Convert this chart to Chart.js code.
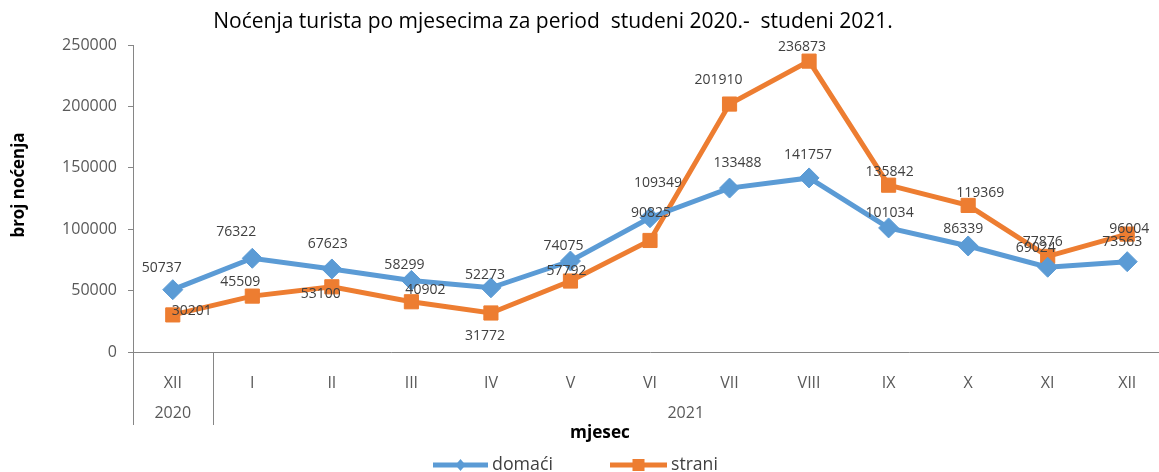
<!DOCTYPE html>
<html>
<head>
<meta charset="utf-8">
<script src="https://cdn.jsdelivr.net/npm/chart.js@4.4.1/dist/chart.umd.min.js"></script>
<style>
body{margin:0;background:#fff;}
#wrap{width:1159px;height:472px;overflow:hidden;}
</style>
</head>
<body>
<div id="wrap"><canvas id="mycanvas" width="1178" height="472"></canvas></div>
<script>
var months = ['XII', 'I', 'II', 'III', 'IV', 'V', 'VI', 'VII', 'VIII', 'IX', 'X', 'XI', 'XII'];
var years = ['2020', '2021'];
var yearMonths = [1, 12];
var domaci = [50737, 76322, 67623, 58299, 52273, 74075, 109349, 133488, 141757, 101034, 86339, 69024, 73563];
var strani = [30201, 45509, 53100, 40902, 31772, 57792, 90825, 201910, 236873, 135842, 119369, 77876, 96004];
var yMax = 250000;
var yStep = 50000;

// where each value label sits relative to its point (label placement, not data)
var domaciLabelPos = [[-11,-22],[-16,-26],[-4,-25],[-7,-15],[-6,-13],[-7,-15],[8,-35],[8,-25],[-1,-23],[1,-15],[-5,-17],[-12,-19],[-5,-20]];
var straniLabelPos = [[19,-4],[-12,-14],[-11,7],[14,-12],[-6,23],[-4,-10],[1,-27],[-11,-24],[-7,-14],[1,-13],[12,-12],[-5,-14],[2,-5]];

var FONT = '"Open Sans", "Noto Sans", sans-serif';
var BLUE = '#5B9BD5';
var ORANGE = '#ED7D31';
var AXIS = '#868686';

function fitFont(ctx, text, width, weight) {
	ctx.font = weight + ' 20px ' + FONT;
	var size = 20 * width / ctx.measureText(text).width;
	ctx.font = weight + ' ' + size.toFixed(1) + 'px ' + FONT;
}

var extras = {
	id: 'extras',
	afterDraw: function(chart) {
		var ctx = chart.ctx;
		var x = chart.scales.x;
		var area = chart.chartArea;
		ctx.save();

		// value labels
		ctx.font = '14px ' + FONT;
		ctx.fillStyle = '#404040';
		ctx.textAlign = 'center';
		ctx.textBaseline = 'middle';
		var sets = [[0, domaci, domaciLabelPos], [1, strani, straniLabelPos]];
		for (var s in sets) {
			var meta = chart.getDatasetMeta(sets[s][0]);
			for (var i in meta.data) {
				var p = meta.data[i];
				var off = sets[s][2][i];
				ctx.fillText(String(sets[s][1][i]), p.x + off[0], p.y + off[1]);
			}
		}

		// year row with separators
		ctx.strokeStyle = AXIS;
		ctx.lineWidth = 1;
		var step = x.getPixelForValue(1) - x.getPixelForValue(0);
		var start = 0;
		var edges = [area.left];
		ctx.font = '16px ' + FONT;
		ctx.fillStyle = '#595959';
		for (var k in years) {
			var a = x.getPixelForValue(start) - step / 2;
			var end = start + yearMonths[k] - 1;
			var b = x.getPixelForValue(end) + step / 2;
			var right = Math.min(b, 1159);
			ctx.fillText(years[k], (a + right) / 2, 413);
			if (k == 0) edges.push(b);
			start = end + 1;
		}
		for (var e in edges) {
			var ex = Math.round(edges[e]) + 0.5;
			ctx.beginPath();
			ctx.moveTo(ex, area.bottom);
			ctx.lineTo(ex, 425);
			ctx.stroke();
		}

		// title
		ctx.fillStyle = '#000';
		fitFont(ctx, 'Noćenja turista po mjesecima za period  studeni 2020.-  studeni 2021.', 680, 'normal');
		ctx.fillText('Noćenja turista po mjesecima za period  studeni 2020.-  studeni 2021.', 553, 22);

		// axis titles
		fitFont(ctx, 'mjesec', 60, 'bold');
		ctx.fillText('mjesec', 600, 433);
		ctx.save();
		ctx.translate(19, 185);
		ctx.rotate(-Math.PI / 2);
		fitFont(ctx, 'broj noćenja', 105, 'bold');
		ctx.fillText('broj noćenja', 0, 0);
		ctx.restore();

		// legend
		var legend = [[BLUE, 'domaći', 433, 488, 'rectRot', 61], [ORANGE, 'strani', 610, 667, 'rect', 47]];
		for (var l in legend) {
			var it = legend[l];
			ctx.strokeStyle = it[0];
			ctx.lineWidth = 5;
			ctx.beginPath();
			ctx.moveTo(it[2], 465);
			ctx.lineTo(it[3], 465);
			ctx.stroke();
			ctx.fillStyle = it[0];
			var mx = (it[2] + it[3]) / 2;
			if (it[4] == 'rect') {
				ctx.fillRect(mx - 6, 465 - 6, 12, 12);
			} else {
				ctx.beginPath();
				ctx.moveTo(mx - 5, 465);
				ctx.lineTo(mx, 459);
				ctx.lineTo(mx + 5, 465);
				ctx.lineTo(mx, 471);
				ctx.closePath();
				ctx.fill();
			}
			ctx.fillStyle = '#404040';
			ctx.textAlign = 'left';
			fitFont(ctx, it[1], it[5], 'normal');
			ctx.fillText(it[1], it[3] + 4, 465);
			ctx.textAlign = 'center';
		}
		ctx.restore();
	}
};

var chartdata = {
	labels: months,
	datasets: [
		{
			label: 'domaći',
			data: domaci,
			borderColor: BLUE,
			backgroundColor: BLUE,
			borderWidth: 5,
			pointStyle: 'rectRot',
			pointRadius: 10,
			pointBorderWidth: 1,
			tension: 0
		},
		{
			label: 'strani',
			data: strani,
			borderColor: ORANGE,
			backgroundColor: ORANGE,
			borderWidth: 5,
			pointStyle: 'rect',
			pointRadius: 10,
			pointBorderWidth: 1,
			tension: 0
		}
	]
};

var ctx = document.getElementById('mycanvas');
var lineGraph = new Chart(ctx, {
	type: 'line',
	data: chartdata,
	plugins: [extras],
	options: {
		responsive: false,
		animation: false,
		layout: { padding: { top: 45, right: 4, bottom: 0, left: 0 } },
		plugins: {
			legend: { display: false },
			title: { display: false },
			tooltip: { enabled: false }
		},
		scales: {
			x: {
				offset: true,
				grid: { display: false },
				border: { color: AXIS },
				ticks: { font: { family: FONT, size: 16 }, color: '#595959', padding: 14, autoSkip: false, maxRotation: 0 },
				afterFit: function(s) { s.height = 120; }
			},
			y: {
				min: 0,
				max: yMax,
				ticks: {
					stepSize: yStep,
					font: { family: FONT, size: 16 },
					color: '#595959',
					padding: 11,
					callback: function(value) { return String(value); }
				},
				grid: { drawOnChartArea: false, drawTicks: true, tickLength: 5, color: AXIS },
				border: { color: AXIS },
				afterFit: function(s) { s.width = 133; }
			}
		}
	}
});
</script>
</body>
</html>
